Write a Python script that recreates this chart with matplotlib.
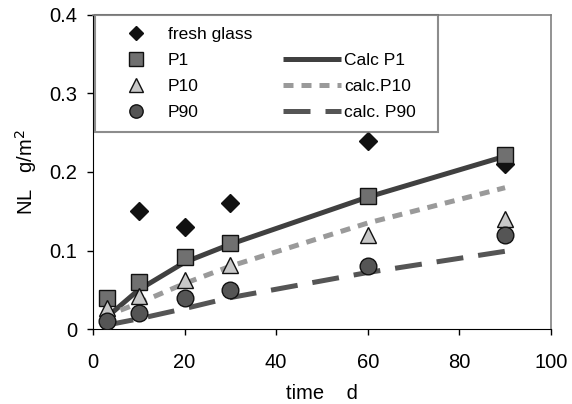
import matplotlib
matplotlib.use('Agg')
import matplotlib.pyplot as plt
from matplotlib.lines import Line2D

plt.rcParams['font.family'] = ['Liberation Sans', 'DejaVu Sans']

# measured data
t_fresh = [10, 20, 30, 60, 90]
nl_fresh = [0.15, 0.13, 0.16, 0.24, 0.21]
t_p = [3, 10, 20, 30, 60, 90]
nl_p1 = [0.04, 0.06, 0.092, 0.11, 0.17, 0.222]
nl_p10 = [0.027, 0.042, 0.062, 0.082, 0.12, 0.14]
nl_p90 = [0.01, 0.02, 0.04, 0.05, 0.08, 0.12]

# calculated curves
t_c = [3, 10, 20, 30, 60, 90]
calc_p1 = [0.015, 0.05, 0.085, 0.108, 0.168, 0.22]
t_c10 = [6, 10, 20, 30, 60, 90]
calc_p10 = [0.024, 0.033, 0.058, 0.08, 0.135, 0.18]
calc_p90 = [0.005, 0.013, 0.026, 0.04, 0.072, 0.099]

fig = plt.figure(figsize=(5.72, 4.04), dpi=100)
ax = fig.add_axes([0.1626, 0.1856, 0.8004, 0.7774])

l1, = ax.plot(t_c, calc_p1, color='#404040', lw=3.6, solid_capstyle='butt', zorder=2)
l2, = ax.plot(t_c10, calc_p10, color='#9a9a9a', lw=3.6, dashes=(2, 1.6), zorder=2)
l3, = ax.plot(t_c, calc_p90, color='#555555', lw=3.6, dashes=(5.4, 3), zorder=2)

m0, = ax.plot(t_fresh, nl_fresh, 'D', ms=9.5, mfc='#111111', mec='#111111', ls='none', zorder=3)
m1, = ax.plot(t_p, nl_p1, 's', ms=12, mfc='#707070', mec='#111111', mew=1.0, ls='none', zorder=3)
m2, = ax.plot(t_p, nl_p10, '^', ms=12, mfc='#c8c8c8', mec='#111111', mew=1.0, ls='none', zorder=3)
m3, = ax.plot(t_p, nl_p90, 'o', ms=12, mfc='#555555', mec='#111111', mew=1.0, ls='none', zorder=3)

ax.set_xlim(0, 100)
ax.set_ylim(0, 0.4)
ax.set_xticks([0, 20, 40, 60, 80, 100])
ax.set_yticks([0, 0.1, 0.2, 0.3, 0.4])
ax.set_yticklabels(['0', '0.1', '0.2', '0.3', '0.4'])
ax.tick_params(direction='out', length=4.5, width=1, labelsize=14.5, color='black')
ax.tick_params(axis='x', pad=12.5)
ax.tick_params(axis='y', pad=7)
for s in ['top', 'right']:
    ax.spines[s].set_color('#808080')
    ax.spines[s].set_linewidth(1.2)
for s in ['left', 'bottom']:
    ax.spines[s].set_color('black')

ax.set_xlabel('time    d', fontsize=14.5, labelpad=9)
ax.set_ylabel('NL   g/m$^2$', fontsize=14.5, labelpad=7)

blank = Line2D([], [], ls='none', marker='none')
handles = [m0, m1, m2, m3, blank, l1, l2, l3]
labels = ['fresh glass', 'P1', 'P10', 'P90', '', 'Calc P1', 'calc.P10', 'calc. P90  ']
leg = ax.legend(handles, labels, ncol=2, loc='upper left', bbox_to_anchor=(0.004, 0.64, 0.749, 0.36),
                mode='expand', fontsize=12.5, frameon=True, fancybox=False, handlelength=3.3,
                handletextpad=0.2, labelspacing=0.62, borderaxespad=0, columnspacing=1.0,
                borderpad=0.7, markerscale=0.8)
leg.get_frame().set_edgecolor('#707070')
leg.get_frame().set_linewidth(1.5)

fig.savefig('out.png', dpi=100)
